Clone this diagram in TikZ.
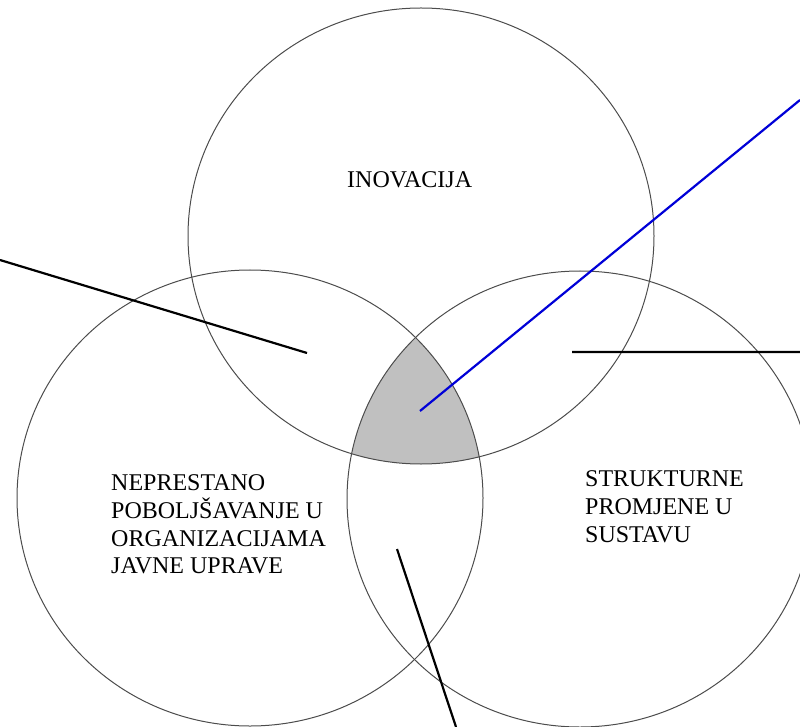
\documentclass[tikz,border=0pt]{standalone}
\usepackage{fontspec}
\setmainfont{Liberation Serif}
\usetikzlibrary{positioning}
\definecolor{ptrblue}{RGB}{0,0,215}
\definecolor{midgray}{RGB}{192,192,192}

\begin{document}
\begin{tikzpicture}[x=1pt,y=-1pt,
    ring/.style={draw=black!70,line width=1pt},
    lbl/.style={anchor=north west,inner sep=0pt,align=left,font=\fontsize{24}{27.6}\selectfont},
    ptr/.style={line width=2.2pt}]
            \useasboundingbox (0,0) rectangle (800,727);
            \coordinate (ci) at (421,236);
            \coordinate (cn) at (250,498);
            \coordinate (cs) at (580,499);

            \begin{scope}
                \clip (ci) ellipse [x radius=233pt, y radius=228pt];
                \clip (cn) ellipse [x radius=233pt, y radius=228pt];
                \fill[midgray] (cs) ellipse [x radius=233pt, y radius=228pt];
            \end{scope}

            \draw[ring] (ci) ellipse [x radius=233pt, y radius=228pt];
            \draw[ring] (cn) ellipse [x radius=233pt, y radius=228pt];
            \draw[ring] (cs) ellipse [x radius=233pt, y radius=228pt];

            \node[lbl] (inov) at (347,171.8) {INOVACIJA};
            \node[lbl] (napr) at (111,474.8) {NEPRESTANO\\POBOLJŠAVANJE U\\ORGANIZACIJAMA\\JAVNE UPRAVE};
            \node[lbl] (strk) at (585,470.8) {STRUKTURNE\\PROMJENE U\\SUSTAVU};

            \coordinate (a1) at (0,260);   \coordinate (a2) at (307,353);
            \coordinate (b1) at (800,100); \coordinate (b2) at (420,411);
            \coordinate (c1) at (572,352); \coordinate (c2) at (800,352);
            \coordinate (d1) at (397,549); \coordinate (d2) at (456,727);

            \draw[ptr] (a1) -- (a2)
                       (c1) -- (c2)
                       (d1) -- (d2);
            \draw[ptr, ptrblue] (b1) -- (b2);
\end{tikzpicture}
\end{document}
